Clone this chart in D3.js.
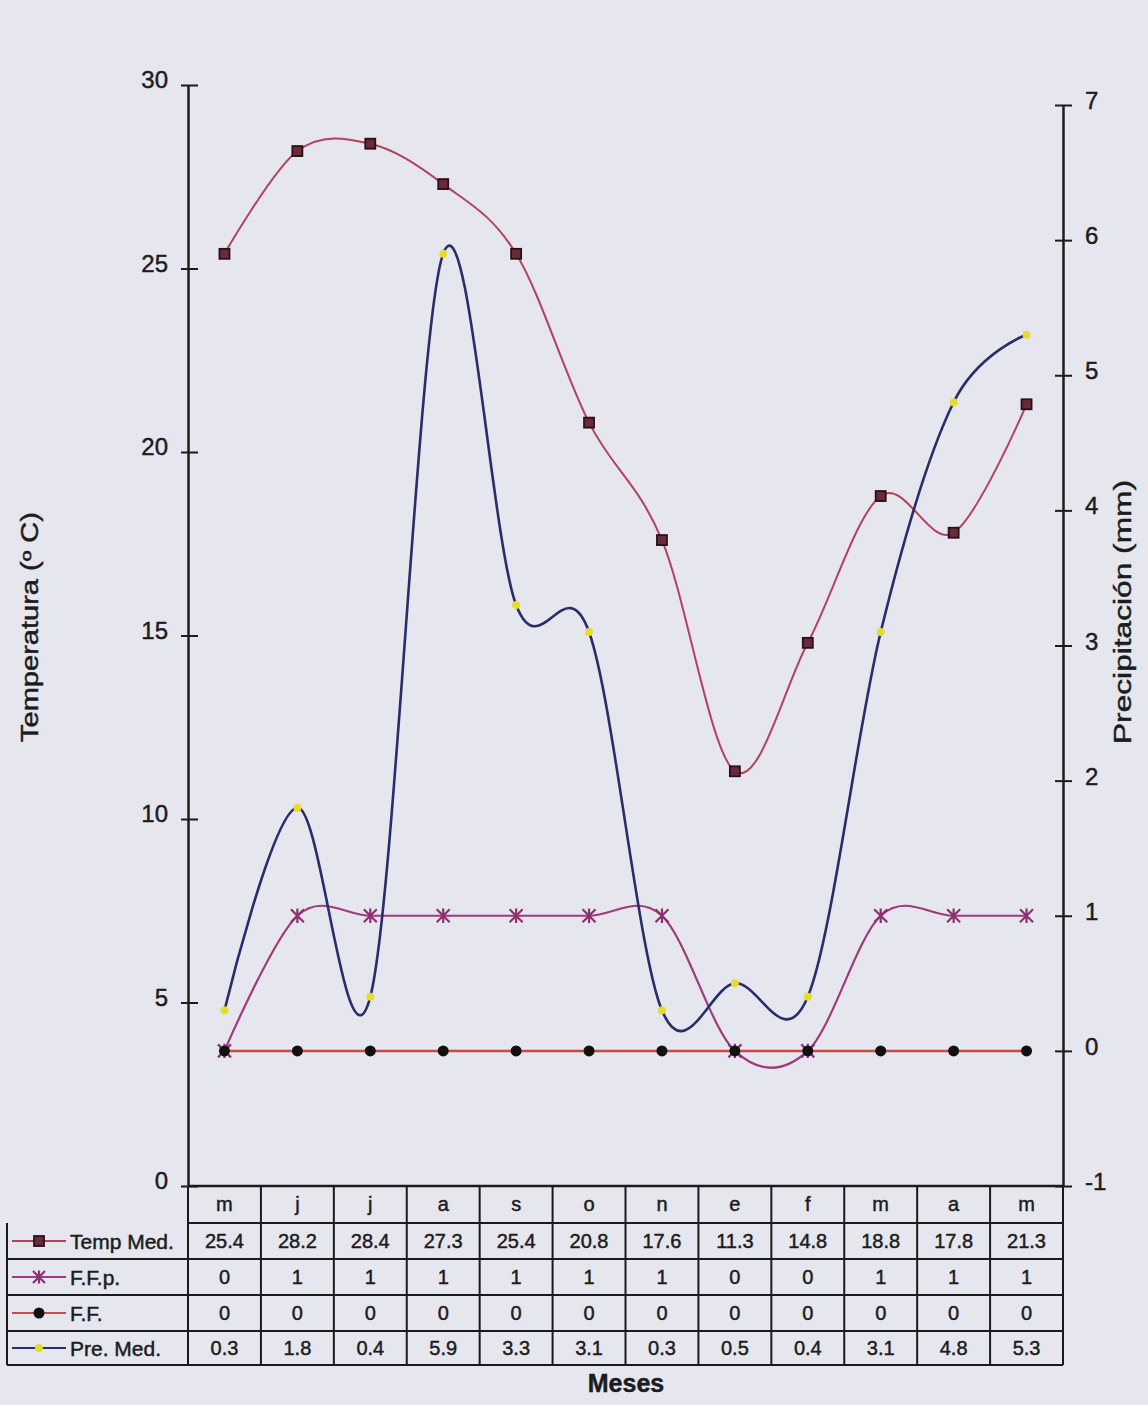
<!DOCTYPE html>
<html><head><meta charset="utf-8">
<script src="https://cdn.jsdelivr.net/npm/d3@7"></script>
<style>html,body{margin:0;padding:0;background:#e5e6ee;}svg{display:block;} text{stroke:#1c1c1c;stroke-width:0.45px;}</style>
</head><body>
<svg id="c" width="1148" height="1405"></svg>
<script>
const months = ["m","j","j","a","s","o","n","e","f","m","a","m"];
const tempMed = [25.4,28.2,28.4,27.3,25.4,20.8,17.6,11.3,14.8,18.8,17.8,21.3];
const ffp = [0,1,1,1,1,1,1,0,0,1,1,1];
const ff = [0,0,0,0,0,0,0,0,0,0,0,0];
const preMed = [0.3,1.8,0.4,5.9,3.3,3.1,0.3,0.5,0.4,3.1,4.8,5.3];
const leftTicks = [0,5,10,15,20,25,30];
const rightTicks = [-1,0,1,2,3,4,5,6,7];
const seriesNames = ["Temp Med.","F.F.p.","F.F.","Pre. Med."];

const svg = d3.select("#c");
const font = "'Liberation Sans', Arial, sans-serif";
const ink = "#1c1c1c";
const L = 188, R = 1063, B = 1186, T = 85;
const x = d3.scaleBand().domain(d3.range(12)).range([L, R]);
const cx = i => x(i) + x.bandwidth()/2;
const yL = d3.scaleLinear().domain([0,30]).range([B, T]);
const yR = d3.scaleLinear().domain([-1,7]).range([B, 105]);

const colTemp = "#b5405f", colFfp = "#a03a7a", colFf = "#c84c46", colPre = "#2a2c6c";
const curve = d3.curveCatmullRom.alpha(0);

// axes
const axL = d3.axisLeft(yL).tickValues(leftTicks).tickSize(0).tickFormat(d=>String(d));
const gL = svg.append("g").attr("transform",`translate(${L},0)`).call(axL);
gL.select(".domain").attr("stroke",ink).attr("stroke-width",2.5);
gL.selectAll(".tick line").remove();
gL.selectAll(".tick").append("line").attr("x1",-7).attr("x2",10).attr("stroke",ink).attr("stroke-width",2);
gL.selectAll(".tick text").attr("font-family",font).attr("font-size",24).attr("fill",ink).attr("x",-20).attr("dy","0.12em");

const axR = d3.axisRight(yR).tickValues(rightTicks).tickSize(0).tickFormat(d=>String(d));
const gR = svg.append("g").attr("transform",`translate(${R},0)`).call(axR);
gR.select(".domain").attr("stroke",ink).attr("stroke-width",2.5);
gR.selectAll(".tick line").remove();
gR.selectAll(".tick").append("line").attr("x1",-8).attr("x2",9).attr("stroke",ink).attr("stroke-width",2);
gR.selectAll(".tick text").attr("font-family",font).attr("font-size",24).attr("fill",ink).attr("x",22).attr("dy","0.15em");

// bottom axis line
svg.append("line").attr("x1",L).attr("x2",R).attr("y1",B).attr("y2",B).attr("stroke",ink).attr("stroke-width",2.5);

// axis titles
svg.append("text").attr("transform","translate(38,627) rotate(-90)").attr("text-anchor","middle")
  .attr("font-family",font).attr("font-size",23).attr("fill",ink)
  .attr("textLength",230).attr("lengthAdjust","spacingAndGlyphs").text("Temperatura (º C)");
svg.append("text").attr("transform","translate(1131,612) rotate(-90)").attr("text-anchor","middle")
  .attr("font-family",font).attr("font-size",23).attr("fill",ink)
  .attr("textLength",264).attr("lengthAdjust","spacingAndGlyphs").text("Precipitación (mm)");
svg.append("text").attr("x",626).attr("y",1392).attr("text-anchor","middle")
  .attr("font-family",font).attr("font-size",25).attr("font-weight","bold").attr("fill",ink).text("Meses");

// lines
function drawLine(vals, scale, color, w){
  const line = d3.line().x((d,i)=>cx(i)).y(d=>scale(d)).curve(curve);
  svg.append("path").attr("d",line(vals)).attr("fill","none").attr("stroke",color).attr("stroke-width",w);
}
drawLine(tempMed, yL, colTemp, 2);
drawLine(ffp, yR, colFfp, 2.2);
drawLine(ff, yR, colFf, 2.5);
drawLine(preMed, yR, colPre, 2.6);

// markers
function square(g, px, py){ g.append("rect").attr("x",px-5).attr("y",py-5).attr("width",10).attr("height",10).attr("fill","#6a2a3a").attr("stroke","#2a1016").attr("stroke-width",1.8); }
function star(g, px, py, s){
  const p = d3.path();
  p.moveTo(px-s,py-s); p.lineTo(px+s,py+s);
  p.moveTo(px-s,py+s); p.lineTo(px+s,py-s);
  p.moveTo(px,py-s*1.1); p.lineTo(px,py+s*1.1);
  g.append("path").attr("d",p.toString()).attr("stroke","#8e3070").attr("stroke-width",2.2).attr("fill","none");
}
function dot(g, px, py){ g.append("circle").attr("cx",px).attr("cy",py).attr("r",5.5).attr("fill","#111"); }
function ydot(g, px, py){ g.append("circle").attr("cx",px).attr("cy",py).attr("r",4).attr("fill","#e6dc2c"); }

const gm = svg.append("g");
tempMed.forEach((d,i)=>square(gm, cx(i), yL(d)));
ffp.forEach((d,i)=>star(gm, cx(i), yR(d), 6.5));
ff.forEach((d,i)=>dot(gm, cx(i), yR(d)));
preMed.forEach((d,i)=>ydot(gm, cx(i), yR(d)));

// data table
const rowTop = 1187, rowH = [36,36,36,36,34];
const rowY = [rowTop]; rowH.forEach((h,i)=>rowY.push(rowY[i]+h));
const tb = svg.append("g");
const stroke = "#1a1a1a";
tb.append("line").attr("x1",L).attr("x2",R).attr("y1",rowY[1]).attr("y2",rowY[1]).attr("stroke",stroke).attr("stroke-width",2);
for (let r=2; r<=5; r++) tb.append("line").attr("x1",7).attr("x2",R).attr("y1",rowY[r]).attr("y2",rowY[r]).attr("stroke",stroke).attr("stroke-width",2);
tb.append("line").attr("x1",7).attr("x2",7).attr("y1",rowY[1]).attr("y2",rowY[5]).attr("stroke",stroke).attr("stroke-width",2);
d3.range(13).forEach(i=>{
  const xx = i<12 ? x(i) : R;
  tb.append("line").attr("x1",xx).attr("x2",xx).attr("y1",rowY[0]).attr("y2",rowY[5]).attr("stroke",stroke).attr("stroke-width",2);
});
const tableVals = [tempMed, ffp, ff, preMed];
months.forEach((m,i)=>tb.append("text").attr("x",cx(i)).attr("y",(rowY[0]+rowY[1])/2+6).attr("text-anchor","middle")
  .attr("font-family",font).attr("font-size",20).attr("fill",ink).text(m));
tableVals.forEach((vals,r)=>{
  vals.forEach((v,i)=>tb.append("text").attr("x",cx(i)).attr("y",(rowY[r+1]+rowY[r+2])/2+7).attr("text-anchor","middle")
    .attr("font-family",font).attr("font-size",20).attr("fill",ink).text(v));
});
// legend keys
const keyCols = [colTemp, colFfp, colFf, colPre];
const keyMk = [square, (g,a,b)=>star(g,a,b,6), dot, ydot];
seriesNames.forEach((n,r)=>{
  const ym = (rowY[r+1]+rowY[r+2])/2;
  tb.append("line").attr("x1",12).attr("x2",66).attr("y1",ym).attr("y2",ym).attr("stroke",keyCols[r]).attr("stroke-width",2);
  keyMk[r](tb, 39, ym);
  tb.append("text").attr("x",70).attr("y",ym+8).attr("font-family",font).attr("font-size",21).attr("fill",ink).text(n);
});
</script>
</body></html>
